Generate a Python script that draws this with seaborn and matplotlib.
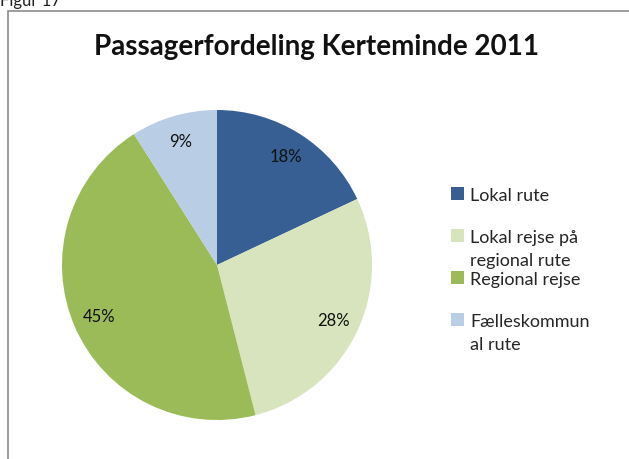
import matplotlib
matplotlib.use('Agg')
import matplotlib.pyplot as plt
import seaborn as sns
from matplotlib.patches import Rectangle

# Data
categories = ['Lokal rute', 'Lokal rejse på\nregional rute', 'Regional rejse', 'Fælleskommun\nal rute']
shares = [18, 28, 45, 9]
colors = ['#375F93', '#D7E4BD', '#9BBB59', '#B9CDE5']

sns.set_theme(style='white')
plt.rcParams['font.family'] = ['Lato', 'DejaVu Sans']

fig = plt.figure(figsize=(6.29, 4.60), dpi=100)

# chart frame (left and top edges visible, the rest is cut off)
fig.patches.append(Rectangle((8 / 629, -0.1), 1.2, 1 - 12 / 460 + 0.1,
                             transform=fig.transFigure, fill=False,
                             edgecolor='#8c8c8c', linewidth=1.2))
fig.text(0.0, 1 - 6 / 460, 'Figur 17', fontsize=12, color='#222222', va='baseline')

ax = fig.add_axes([62 / 629, (460 - 266 - 155) / 460, 310 / 629, 310 / 460])
wedges, texts = ax.pie(shares, colors=colors, startangle=90, counterclock=False,
                       labels=[f'{v}%' for v in shares], labeldistance=0.83,
                       wedgeprops={'linewidth': 0},
                       textprops={'fontsize': 12, 'color': '#111111', 'ha': 'center', 'va': 'center'})
ax.set_xlim(-1, 1)
ax.set_ylim(-1, 1)
ax.set_aspect('equal')

fig.text(317 / 629, 1 - 47 / 460, 'Passagerfordeling Kerteminde 2011',
         fontsize=20, fontweight='bold', ha='center', va='center', color='#111111')

# every legend entry takes a two-line slot, as in the original
legend_labels = [c if '\n' in c else c + '\n' for c in categories]
leg = fig.legend(wedges, legend_labels, loc='upper left', bbox_to_anchor=(451 / 629, 1 - 188 / 460),
                 frameon=False, fontsize=13, handlelength=0.7, handleheight=0.7,
                 handletextpad=0.35, labelspacing=0.2, borderpad=0, borderaxespad=0)
for t in leg.get_texts():
    t.set_linespacing(1.5)
# put the colour boxes next to the first line of each entry
for col in leg._legend_handle_box.get_children():
    for row in col.get_children():
        row.align = 'top'

plt.savefig('out.png', dpi=100)
